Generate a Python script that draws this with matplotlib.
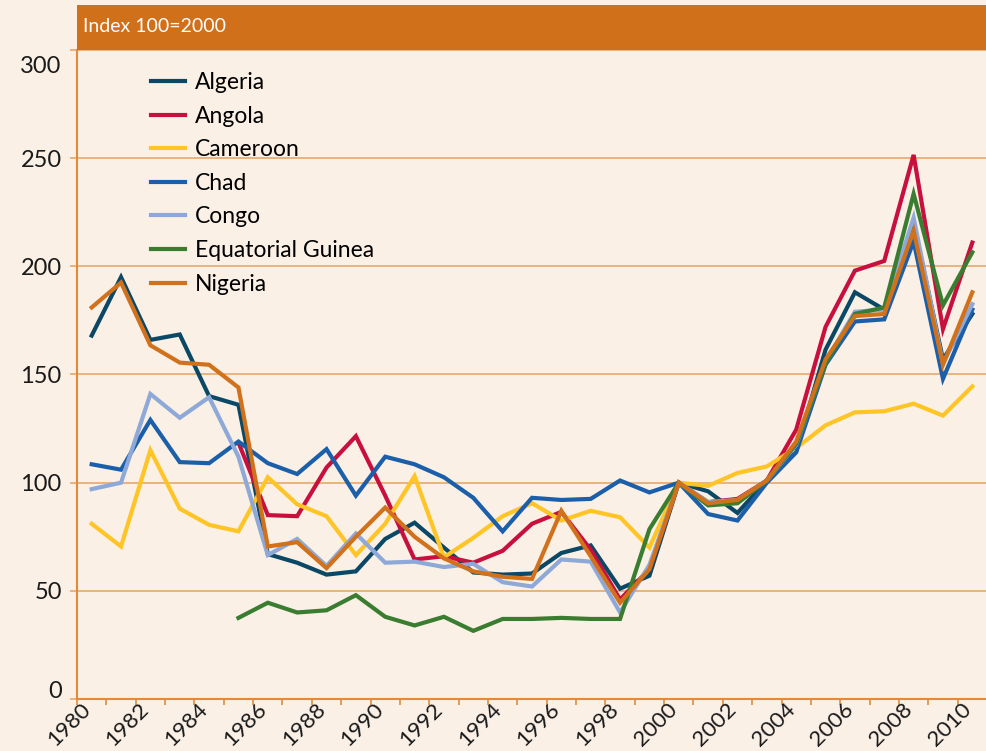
import numpy as np
import matplotlib.pyplot as plt
from matplotlib.patches import Rectangle
from matplotlib.transforms import ScaledTranslation

plt.rcParams['font.family'] = ['Lato', 'DejaVu Sans']

nan = np.nan
years = np.arange(1980, 2011)

algeria = [168, 195, 166, 168.5, 140, 136, 67, 63, 57.5, 59, 74, 81.5, 70, 58.5, 57.5, 58,
           67.5, 71, 51, 57, 100, 96, 86, 101, 114.5, 161.5, 188, 180, 220, 157, 178]
angola = [nan, nan, nan, nan, nan, 118.5, 85, 84.5, 107, 121.5, 94, 64.5, 66, 63, 68.5, 81,
          86.5, 69, 46, 60, 100, 91, 92.5, 101, 124.5, 172, 198, 202.5, 251.5, 171, 211]
cameroon = [81, 70.5, 115, 88, 80.5, 77.5, 102.5, 90, 84.5, 66.5, 81, 103, 65.5, 74.5, 84.5, 90.5,
            82.5, 87, 84, 70, 100, 98.5, 104.5, 107.5, 116, 126.5, 132.5, 133, 136.5, 131, 144.5]
chad = [108.5, 106, 129, 109.5, 109, 119, 109, 104, 115.5, 94, 112, 108.5, 102.5, 93, 77.5, 93,
        92, 92.5, 101, 95.5, 100, 85.5, 82.5, 100, 114, 154.5, 174.5, 175.5, 211.5, 148, 180]
congo = [97, 100, 141, 130, 139.5, 112, 66.5, 74, 61.5, 76.5, 63, 63.5, 61, 62.5, 54, 52,
         64.5, 63.5, 40, 62, 100, 91, 92, 101, 117.5, 156, 179, 180, 222.5, 155, 182.5]
eq_guinea = [nan, nan, nan, nan, nan, 37.5, 44.5, 40, 41, 48, 38, 34, 38, 31.5, 37, 37,
             37.5, 37, 37, 78.5, 100, 89.5, 90.5, 101, 118, 155, 178, 181, 233.5, 182, 206.5]
nigeria = [181, 192.5, 163.5, 155.5, 154.5, 144, 70.5, 72.5, 60.5, 75, 88.5, 75, 65, 59, 56.5, 55.5,
           87, 66, 44.5, 60, 100, 90.5, 92, 101, 119, 157, 177, 178, 216.5, 154.5, 188]

series = [
    ('Algeria', algeria, '#0b4866'),
    ('Angola', angola, '#c8103e'),
    ('Cameroon', cameroon, '#ffc425'),
    ('Chad', chad, '#1b5faa'),
    ('Congo', congo, '#8ea9d8'),
    ('Equatorial Guinea', eq_guinea, '#3a7d30'),
    ('Nigeria', nigeria, '#d2711c'),
]

bg = '#faf0e6'
orange = '#d0701a'
axis_col = '#e38a3a'
grid_col = '#e8ad78'

W, H = 987, 751
fig = plt.figure(figsize=(W / 100, H / 100), dpi=100, facecolor=bg)
ax = fig.add_axes([77 / W, 1 - 699 / H, 910 / W, 649 / H])
ax.set_facecolor(bg)

# cabecera naranja
fig.add_artist(Rectangle((77 / W, 1 - 50 / H), 910 / W, 45 / H, transform=fig.transFigure,
                         facecolor=orange, edgecolor='none'))
fig.text(83 / W, 1 - 27 / H, 'Index 100=2000', color='white', fontsize=14, va='center', ha='left')

# los puntos van en el centro de cada año
for name, vals, col in series:
    ax.plot(years + 0.5, vals, color=col, lw=3, label=name, solid_joinstyle='miter')

ax.set_xlim(1980, 2011)
ax.set_ylim(0, 300)

yt = [0, 50, 100, 150, 200, 250, 300]
ax.set_yticks(yt)
ax.set_yticklabels([str(v) for v in yt])
for v in yt[1:]:
    ax.axhline(v, color=grid_col, lw=1.3, zorder=0)

ax.set_xticks(years)
ax.set_xticklabels([str(y) if y % 2 == 0 else '' for y in years], rotation=45, ha='center')

for s in ['top', 'right']:
    ax.spines[s].set_visible(False)
for s in ['left', 'bottom']:
    ax.spines[s].set_color(axis_col)
    ax.spines[s].set_linewidth(1.5)

ax.tick_params(axis='y', length=5, color=grid_col, width=1.3, labelsize=17, pad=6, labelcolor='#1a1a1a')
ax.tick_params(axis='x', length=4, color=axis_col, width=1.2, labelsize=16, pad=0, labelcolor='#1a1a1a')

# pequeños desplazamientos de etiquetas como en el original
for lbl in ax.get_xticklabels():
    lbl.set_transform(lbl.get_transform() + ScaledTranslation(-8 / 100, 5 / 100, fig.dpi_scale_trans))
ylbls = ax.get_yticklabels()
ylbls[-1].set_transform(ylbls[-1].get_transform() + ScaledTranslation(0, -15 / 100, fig.dpi_scale_trans))
ylbls[0].set_transform(ylbls[0].get_transform() + ScaledTranslation(0, 10 / 100, fig.dpi_scale_trans))

ax.legend(loc='upper left', bbox_to_anchor=((151 - 77) / 910, 1 - 22 / 649), frameon=False,
          fontsize=16.5, handlelength=1.5, handletextpad=0.4, labelspacing=0.55,
          borderpad=0, borderaxespad=0)

plt.savefig('out.png', dpi=100, facecolor=bg)
